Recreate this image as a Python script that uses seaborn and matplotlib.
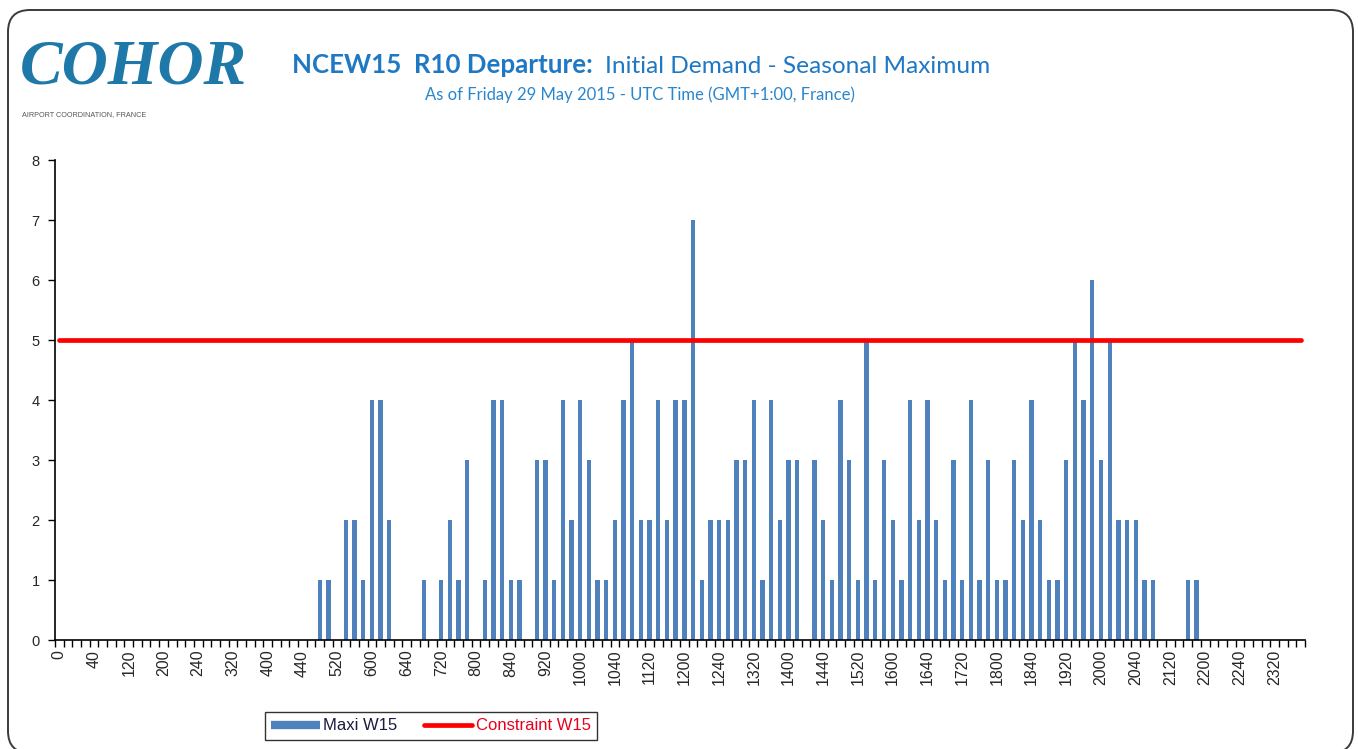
import numpy as np
import pandas as pd
import matplotlib
import matplotlib.pyplot as plt
import seaborn as sns
from matplotlib.patches import FancyBboxPatch
from matplotlib.lines import Line2D
from matplotlib.transforms import IdentityTransform

# 10-minute slots over the day, labelled HHMM without leading zeros
slot_labels = [str((i * 10 // 60) * 100 + (i * 10) % 60) for i in range(144)]

# Maxi W15 - demand per 10-minute slot
maxi_w15 = [
    0, 0, 0, 0, 0, 0, 0, 0, 0, 0, 0, 0,   # 0000 - 0150
    0, 0, 0, 0, 0, 0, 0, 0, 0, 0, 0, 0,   # 0200 - 0350
    0, 0, 0, 0, 0, 0, 1, 1, 0, 2, 2, 1,   # 0400 - 0550
    4, 4, 2, 0, 0, 0, 1, 0, 1, 2, 1, 3,   # 0600 - 0750
    0, 1, 4, 4, 1, 1, 0, 3, 3, 1, 4, 2,   # 0800 - 0950
    4, 3, 1, 1, 2, 4, 5, 2, 2, 4, 2, 4,   # 1000 - 1150
    4, 7, 1, 2, 2, 2, 3, 3, 4, 1, 4, 2,   # 1200 - 1350
    3, 3, 0, 3, 2, 1, 4, 3, 1, 5, 1, 3,   # 1400 - 1550
    2, 1, 4, 2, 4, 2, 1, 3, 1, 4, 1, 3,   # 1600 - 1750
    1, 1, 3, 2, 4, 2, 1, 1, 3, 5, 4, 6,   # 1800 - 1950
    3, 5, 2, 2, 2, 1, 1, 0, 0, 0, 1, 1,   # 2000 - 2150
    0, 0, 0, 0, 0, 0, 0, 0, 0, 0, 0, 0,   # 2200 - 2350
]

# Constraint W15 - declared capacity per slot
constraint_w15 = [5] * len(slot_labels)

y_ticks = [0, 1, 2, 3, 4, 5, 6, 7, 8]

BLUE = '#4F81BD'
RED = '#FF0000'
TITLE_BLUE = '#1F78C3'

W, H = 1358, 749


def fx(px):
    return px / W


def fy(py):
    return 1 - py / H


sns.set_style("white")
plt.rcParams['font.family'] = ['Liberation Sans', 'DejaVu Sans']

fig = plt.figure(figsize=(W / 100, H / 100), dpi=100)
fig.patch.set_facecolor('white')

# rounded frame around the whole sheet
frame = FancyBboxPatch((8, -4), 1345, 743, boxstyle="round,pad=0,rounding_size=22",
                       transform=IdentityTransform(), facecolor='none',
                       edgecolor='#3a3a3a', linewidth=1.4)
fig.patches.append(frame)

ax = fig.add_axes([fx(55), fy(640), fx(1305) - fx(55), fy(160) - fy(640)])

df = pd.DataFrame({'slot': slot_labels, 'maxi': maxi_w15,
                   'pos': np.arange(len(slot_labels)), 'constraint': constraint_w15})

sns.barplot(data=df, x='slot', y='maxi', order=slot_labels, color=BLUE,
            saturation=1, width=0.5, linewidth=0, ax=ax)
sns.lineplot(data=df, x='pos', y='constraint', color=RED, linewidth=3.4,
             solid_capstyle='round', ax=ax)

ax.set_xlim(-0.5, len(slot_labels) - 0.5)
ax.set_ylim(0, 8)
ax.set_yticks(y_ticks)
ax.set_yticklabels([str(v) for v in y_ticks], fontsize=10.5)

ax.set_xticks(np.arange(0, len(slot_labels), 4))
ax.set_xticklabels(slot_labels[::4], rotation=90, fontsize=11.5, va='top')
ax.set_xticks(np.arange(-0.5, len(slot_labels), 1), minor=True)
ax.tick_params(axis='x', which='major', bottom=True, length=0, pad=7)
ax.tick_params(axis='x', which='minor', bottom=True, length=5, width=1,
               direction='out', color='black')
ax.tick_params(axis='y', which='major', left=True, length=5, width=1,
               direction='out', color='black', pad=6)

ax.set_xlabel('')
ax.set_ylabel('')
for side in ['top', 'right']:
    ax.spines[side].set_visible(False)
for side in ['left', 'bottom']:
    ax.spines[side].set_color('black')
    ax.spines[side].set_linewidth(1.2)

# legend
handles = [Line2D([], [], color=BLUE, linewidth=6, solid_capstyle='butt'),
           Line2D([], [], color=RED, linewidth=3.4, solid_capstyle='round')]
leg = fig.legend(handles, ['Maxi W15', 'Constraint W15'], loc='center',
                 bbox_to_anchor=(fx(431), fy(726)), ncol=2, fontsize=12,
                 frameon=True, fancybox=False, edgecolor='black',
                 handlelength=2.9, handletextpad=0.2, columnspacing=1.6,
                 borderpad=0.38, borderaxespad=0)
leg.get_frame().set_linewidth(1.0)
leg.get_texts()[0].set_color('#1a1a40')
leg.get_texts()[1].set_color('#E8001C')

# header
fig.text(fx(292), fy(73), 'NCEW15  R10 Departure:', fontsize=18.6, fontweight='bold',
         color=TITLE_BLUE, family='Lato', ha='left', va='baseline')
fig.text(fx(605), fy(73), 'Initial Demand - Seasonal Maximum', fontsize=17.6,
         color=TITLE_BLUE, family='Lato', ha='left', va='baseline')
fig.text(fx(640), fy(100), 'As of Friday 29 May 2015 - UTC Time (GMT+1:00, France)',
         fontsize=12, color='#2A86CC', family='Lato', ha='center', va='baseline')

# logo
fig.text(fx(20), fy(84), 'COHOR', fontsize=46, fontweight='bold', fontstyle='italic',
         color='#1E78A8', family='Liberation Serif', ha='left', va='baseline')
fig.text(fx(22), fy(116), 'AIRPORT COORDINATION, FRANCE', fontsize=5.2,
         color='#555555', ha='left', va='baseline')

fig.savefig('out.png', dpi=100)
